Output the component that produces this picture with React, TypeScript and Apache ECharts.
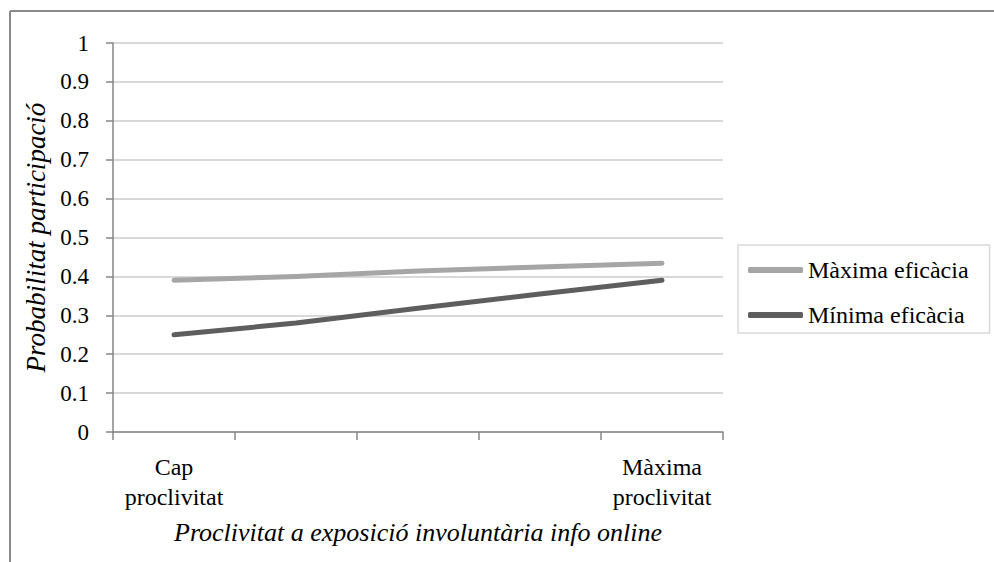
import React, { useEffect, useRef } from "react";
import * as echarts from "echarts";

const categories = ["Cap\nproclivitat", "", "", "", "Màxima\nproclivitat"];
const maximaEficacia = [0.39, 0.4, 0.414, 0.424, 0.434];
const minimaEficacia = [0.25, 0.28, 0.318, 0.355, 0.39];
const seriesNames = ["Màxima eficàcia", "Mínima eficàcia"];
const yAxisTitle = "Probabilitat participació";
const xAxisTitle = "Proclivitat a exposició involuntària info online";

const FONT = "Liberation Serif";

export default function App() {
  const ref = useRef<HTMLDivElement>(null);
  useEffect(() => {
    if (!ref.current) return;
    const chart = echarts.init(ref.current, undefined, { renderer: "svg" });
    chart.setOption({
      animation: false,
      backgroundColor: "#ffffff",
      textStyle: { fontFamily: FONT, color: "#000" },
      graphic: [
        { type: "line", shape: { x1: 10, y1: 11, x2: 994, y2: 11 }, style: { stroke: "#8a8a8a", lineWidth: 2 } },
        { type: "line", shape: { x1: 10, y1: 11, x2: 10, y2: 562 }, style: { stroke: "#8a8a8a", lineWidth: 2 } },
      ],
      grid: { left: 113, right: 271, top: 43, bottom: 130, containLabel: false },
      legend: {
        orient: "vertical",
        left: 738,
        top: 245,
        padding: [12, 21, 5, 10],
        itemGap: 19,
        itemWidth: 55,
        itemHeight: 6,
        borderColor: "#d9d9d9",
        borderWidth: 1.5,
        textStyle: { fontFamily: FONT, fontSize: 24, lineHeight: 26, color: "#000" },
        data: [
          { name: seriesNames[0], icon: "roundRect" },
          { name: seriesNames[1], icon: "roundRect" },
        ],
      },
      xAxis: {
        type: "category",
        data: categories,
        boundaryGap: true,
        axisLine: { show: true, lineStyle: { color: "#868686", width: 1.5 } },
        axisTick: { show: true, length: 8, interval: 0, lineStyle: { color: "#868686", width: 1.5 } },
        axisLabel: {
          interval: 0,
          margin: 20,
          fontFamily: FONT,
          fontSize: 24,
          lineHeight: 30,
          color: "#000",
        },
        name: xAxisTitle,
        nameLocation: "middle",
        nameGap: 100,
        nameTextStyle: {
          fontFamily: FONT,
          fontStyle: "italic",
          fontSize: 26,
          color: "#000",
          verticalAlign: "middle",
        },
      },
      yAxis: {
        type: "value",
        min: 0,
        max: 1,
        interval: 0.1,
        axisLine: { show: true, lineStyle: { color: "#868686", width: 1.5 } },
        axisTick: { show: true, length: 7, lineStyle: { color: "#868686", width: 1.5 } },
        splitLine: { show: true, lineStyle: { color: "#d9d9d9", width: 2 } },
        axisLabel: {
          margin: 24,
          fontFamily: FONT,
          fontSize: 23,
          color: "#000",
          formatter: (v: number) => (v === 0 ? "0" : v === 1 ? "1" : v.toFixed(1)),
        },
        name: yAxisTitle,
        nameLocation: "middle",
        nameGap: 73,
        nameRotate: 90,
        nameTextStyle: {
          fontFamily: FONT,
          fontStyle: "italic",
          fontSize: 27,
          color: "#000",
          verticalAlign: "middle",
        },
      },
      series: [
        {
          name: seriesNames[0],
          type: "line",
          data: maximaEficacia,
          symbol: "none",
          lineStyle: { color: "#a6a6a6", width: 5, cap: "round", join: "round" },
          itemStyle: { color: "#a6a6a6" },
        },
        {
          name: seriesNames[1],
          type: "line",
          data: minimaEficacia,
          symbol: "none",
          lineStyle: { color: "#5e5e5e", width: 5, cap: "round", join: "round" },
          itemStyle: { color: "#5e5e5e" },
        },
      ],
    });
    return () => chart.dispose();
  }, []);
  return (
    <div
      ref={ref}
      style={{ position: "absolute", left: 0, top: 0, width: 994, height: 562 }}
    />
  );
}
